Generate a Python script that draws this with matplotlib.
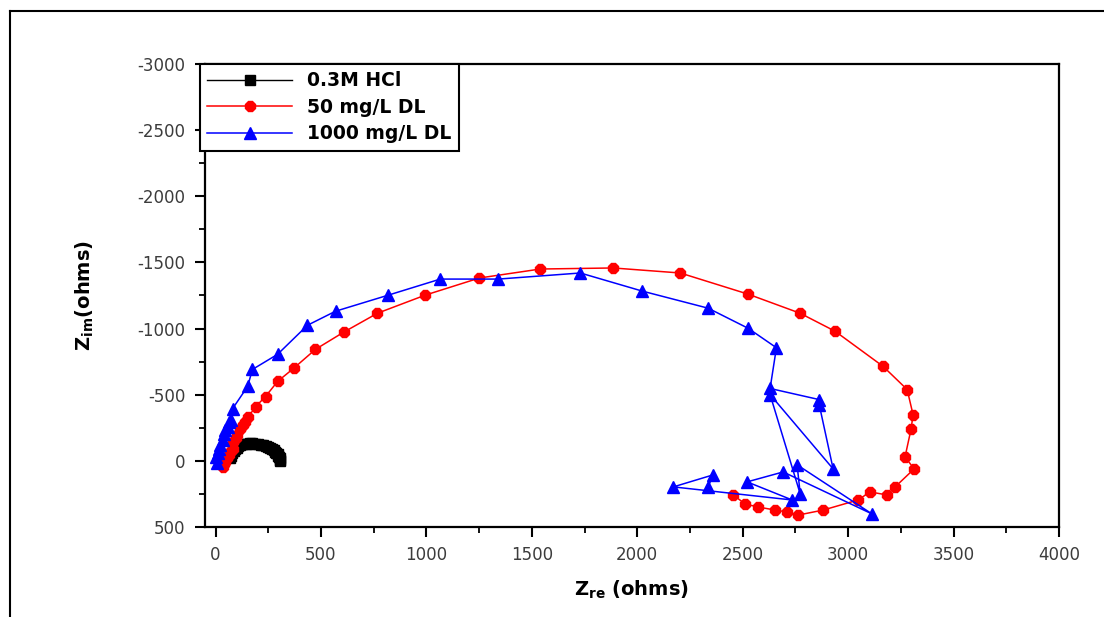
import matplotlib
matplotlib.use('Agg')
import matplotlib.pyplot as plt
from matplotlib.ticker import MultipleLocator
from matplotlib.lines import Line2D

plt.rcParams['font.family'] = ['DejaVu Sans']
plt.rcParams['axes.unicode_minus'] = False

# Nyquist data (Zre, Zim in ohms)
hcl_zre = [70, 75, 80, 86, 93, 100, 108, 117, 127, 138, 150, 162, 175, 188, 201,
           214, 226, 238, 249, 259, 268, 276, 283, 289, 294, 298, 301, 304, 306, 308]
hcl_zim = [-20, -40, -58, -74, -88, -100, -110, -118, -124, -128, -131, -132, -132, -130, -127,
           -123, -118, -112, -105, -97, -88, -79, -70, -60, -50, -40, -30, -20, -10, 0]

dl50_zre = [33, 40, 47, 55, 62, 70, 81, 85, 95, 104, 118, 130, 142, 156, 190, 237, 294, 370, 474, 607, 768,
            995, 1251, 1540, 1886, 2204, 2526, 2772, 2938, 3166, 3280, 3308, 3299, 3270,
            3313, 3223, 3185, 3104, 3047, 2882, 2763, 2711, 2654, 2573, 2512, 2455]
dl50_zim = [46, 25, 8, -20, -46, -70, -91, -144, -170, -197, -243, -270, -296, -334, -410, -486, -600, -699, -843, -972, -1116,
            -1253, -1382, -1450, -1458, -1420, -1260, -1116, -980, -714, -539, -349, -243, -30,
            61, 197, 258, 235, 296, 372, 410, 387, 372, 349, 326, 258]

dl1000_zre = [5, 0, 10, 14, 20, 33, 38, 45, 57, 65, 71, 81, 152, 175, 294, 436, 569, 820, 1066, 1341,
              1730, 2024, 2336, 2526, 2660, 2630, 2863, 2863, 2929, 2630, 2773, 2758,
              3114, 2692, 2521, 2735, 2171, 2360, 2336]
dl1000_zim = [15, -30, -60, -91, -120, -159, -205, -230, -258, -290, -311, -395, -562, -691, -805, -1025, -1131, -1253, -1374, -1374,
              -1420, -1283, -1154, -1002, -855, -547, -463, -425, 61, -501, 251, 30,
              402, 84, 159, 296, 197, 106, 197]

labels = ['0.3M HCl', '50 mg/L DL', '1000 mg/L DL']

fig = plt.figure(figsize=(11.04, 6.17), dpi=100)
ax = fig.add_axes([0.1857, 0.1459, 0.9592 - 0.1857, 0.8963 - 0.1459])

ax.plot(hcl_zre, hcl_zim, color='black', marker='s', markersize=7, lw=1, label=labels[0])
ax.plot(dl50_zre, dl50_zim, color='#ff0000', marker='8', markersize=8.5, lw=1.1, label=labels[1])
ax.plot(dl1000_zre, dl1000_zim, color='#0000ff', marker='^', markersize=8, lw=1.1, label=labels[2])

ax.set_xlim(-50, 4000)
ax.set_ylim(500, -3000)
ax.xaxis.set_major_locator(MultipleLocator(500))
ax.xaxis.set_minor_locator(MultipleLocator(250))
ax.yaxis.set_major_locator(MultipleLocator(500))
ax.yaxis.set_minor_locator(MultipleLocator(250))

for s in ax.spines.values():
    s.set_linewidth(1.6)
ax.tick_params(which='major', direction='out', length=7, width=1.5, labelsize=12,
               labelcolor='#3c3c3c', pad=7)
ax.tick_params(which='minor', direction='out', length=4, width=1.3)

ax.set_xlabel(r'$\mathbf{Z_{re}}$ (ohms)', fontsize=14, fontweight='bold', labelpad=10)
ax.set_ylabel(r'$\mathbf{Z_{im}}$(ohms)', fontsize=14, fontweight='bold', labelpad=30)

leg = ax.legend(loc='upper left', bbox_to_anchor=(-0.006, 1.0), borderaxespad=0,
                fancybox=False, framealpha=1, edgecolor='black', handlelength=4.5,
                labelspacing=0.4, prop={'weight': 'bold', 'size': 13.5})
leg.get_frame().set_linewidth(1.5)

# outer frame lines (top and left only)
fig.add_artist(Line2D([10 / 1104, 1.0], [1 - 11 / 617, 1 - 11 / 617], color='black', lw=1.5))
fig.add_artist(Line2D([10 / 1104, 10 / 1104], [0, 1 - 11 / 617], color='black', lw=1.5))

fig.savefig('out.png', dpi=100)
